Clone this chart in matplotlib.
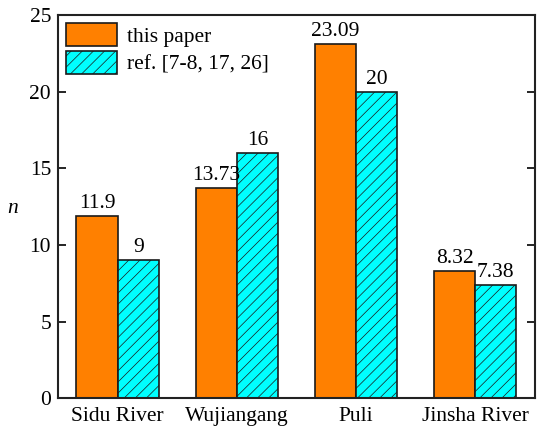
import numpy as np
import matplotlib.pyplot as plt

plt.rcParams['font.family'] = ['Liberation Serif', 'DejaVu Serif']
plt.rcParams['hatch.linewidth'] = 0.5
plt.rcParams['hatch.color'] = '#333333'

# data
sites = ["Sidu River", "Wujiangang", "Puli", "Jinsha River"]
this_paper = [11.9, 13.73, 23.09, 8.32]
ref_vals = [9, 16, 20, 7.38]
this_labels = ["11.9", "13.73", "23.09", "8.32"]
ref_labels = ["9", "16", "20", "7.38"]

fs = 15.5

fig = plt.figure(figsize=(5.37, 4.30), dpi=100)
ax = fig.add_axes([0.108, 0.074, 0.888, 0.891])

x = np.arange(len(sites))
w = 0.345
b1 = ax.bar(x - w/2, this_paper, w, color='#FF8000', edgecolor='#1a1a1a',
            linewidth=1.2, label='this paper')
b2 = ax.bar(x + w/2, ref_vals, w, color='#00FFFF', edgecolor='#1a1a1a',
            linewidth=1.2, hatch='///', label='ref. [7-8, 17, 26]')

for rect, t in zip(b1, this_labels):
    ax.text(rect.get_x() + rect.get_width()/2, rect.get_height() + 0.2, t,
            ha='center', va='bottom', fontsize=fs)
for rect, t in zip(b2, ref_labels):
    ax.text(rect.get_x() + rect.get_width()/2, rect.get_height() + 0.2, t,
            ha='center', va='bottom', fontsize=fs)

ax.set_xlim(-0.5, 3.5)
ax.set_ylim(0, 25)
ax.set_yticks([0, 5, 10, 15, 20, 25])
ax.set_xticks(x)
ax.set_xticklabels(sites, fontsize=fs)
ax.tick_params(axis='y', direction='in', right=True, labelsize=fs, length=6, width=1.2, pad=5)
ax.tick_params(axis='x', length=0, pad=6)
for s in ax.spines.values():
    s.set_linewidth(1.5)
    s.set_color('#222222')

ax.set_ylabel('n', fontsize=fs, style='italic', rotation=0)
ax.yaxis.set_label_coords(-0.095, 0.47)

leg = ax.legend(loc='upper left', fontsize=fs, frameon=False,
                handlelength=2.4, handleheight=1.3,
                borderaxespad=0.25, borderpad=0.1, labelspacing=0.2,
                handletextpad=0.45)

plt.savefig('out.png', dpi=100)
